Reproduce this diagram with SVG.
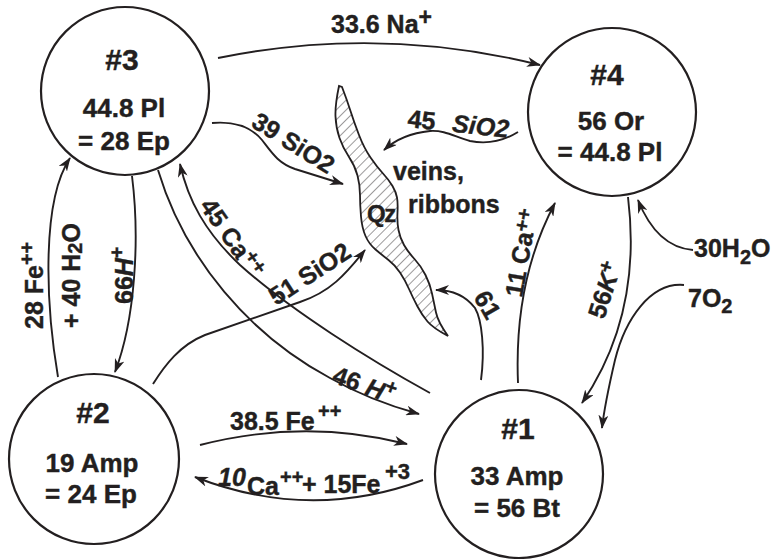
<svg xmlns="http://www.w3.org/2000/svg" width="772" height="559" viewBox="0 0 772 559">
<style>
.node{fill:#fff;stroke:#231f20;stroke-width:2.2}
.t{font-family:"Liberation Sans",Arial,sans-serif;font-weight:bold;fill:#231f20;stroke:#231f20;stroke-width:0.4}
.ttl{font-size:30px;text-anchor:middle}
.nb{font-size:26px;text-anchor:middle}
.lb{font-size:25px}
.sm{font-size:20px}
.it{font-style:italic}
.c path{fill:none;stroke:#231f20;stroke-width:1.9}
.c path.a{marker-end:url(#ah)}
</style>
<defs>
<marker id="ah" viewBox="0 0 14 10" refX="13" refY="5" markerWidth="14" markerHeight="10" markerUnits="userSpaceOnUse" orient="auto">
<path d="M0,0 L14,5 L0,10 L4,5 Z" fill="#231f20"/>
</marker>
<pattern id="hatch" patternUnits="userSpaceOnUse" width="7" height="7" patternTransform="rotate(45)">
<line x1="0" y1="0" x2="0" y2="7" stroke="#231f20" stroke-width="0.9"/>
</pattern>
</defs>
<rect width="772" height="559" fill="#fff"/>

<g id="vein">
<path d="M339,86 Q335,105 335.5,116.5 Q336,128 339.5,138 Q343,148 349,157 Q355,166 357.5,175.5 Q360,185 360,195 Q360,205 361,216.5 Q362,228 365.5,236 Q369,244 375.5,249.5 Q382,255 388.5,260 Q395,265 400,272.5 Q405,280 409,289 Q413,298 417.5,306.5 Q422,315 427.5,321.5 Q433,328 448,336 Q438,322 436,312.5 Q434,303 432,293.5 Q430,284 425.5,275 Q421,266 414.5,259 Q408,252 404,245 Q400,238 398.5,230 Q397,222 397.5,212.5 Q398,203 397,197.5 Q396,192 392.5,186 Q389,180 383,173.5 Q377,167 370.5,157.5 Q364,148 359,135 Q354,122 350.5,111 Q347,100 342,87 Z" fill="url(#hatch)" stroke="#231f20" stroke-width="1.8"/>
<text class="t" x="367" y="222" font-size="24" letter-spacing="-1.5">Qz</text>
<text class="t lb" x="393" y="180">veins,</text>
<text class="t lb" x="408" y="213">ribbons</text>
</g>

<g class="c" id="connectors">
<path class="a" d="M218,58 Q380,25 540,65"/>
<path class="a" d="M212,123 C235,121 252,128 262,140 C272,153 278,163 295,169 L343,184"/>
<path class="a" d="M518,132 C505,140 490,145 470,141 C455,137 445,130 430,131 C410,133 395,140 384,150"/>
<path class="a" d="M153,384 C165,365 180,345 205,335 L300,302 C330,292 345,275 365,250"/>
<path class="a" d="M430,393 C370,360 290,310 240,265 C205,232 188,200 180,164"/>
<path class="a" d="M158,170 C185,260 250,335 330,378 C360,395 390,406 419,414"/>
<path class="a" d="M132,176 C140,240 135,320 115,372"/>
<path class="a" d="M58,377 C45,300 42,200 70,158"/>
<path class="a" d="M200,445 Q305,418 407,444"/>
<path class="a" d="M423,480 Q310,522 195,477"/>
<path class="a" d="M518,383 C515,310 530,250 555,203"/>
<path class="a" d="M481,380 C485,350 482,320 475,308 C465,295 450,290 436,290"/>
<path class="a" d="M628,197 C637,270 625,340 582,403"/>
<path class="a" d="M693,250 C668,248 650,230 638,200"/>
<path class="a" d="M684,285 C650,282 625,320 615,360 C608,390 604,410 602,428"/>
</g>

<g id="labels">
<text class="t lb" x="331" y="33">33.6 Na<tspan font-size="23" dy="-8">+</tspan></text>
<text class="t lb" transform="rotate(32 250 126)" x="250" y="126">39 SiO2</text>
<text class="t lb" transform="rotate(6 407 127)" x="407" y="127">45 <tspan class="it" dx="10">SiO2</tspan></text>
<text class="t lb" transform="rotate(-33 276 306)" x="276" y="306">51 SiO2</text>
<text class="t lb" transform="rotate(55 199 206)" x="199" y="206">45 Ca<tspan class="sm" dy="-8">++</tspan></text>
<text class="t lb" transform="rotate(20 331 382)" x="331" y="382">46 <tspan class="it">H</tspan><tspan class="sm" dy="-9">+</tspan></text>
<text class="t lb" transform="rotate(-90 133 304)" x="133" y="304">66<tspan class="it">H</tspan><tspan class="sm" dy="-9">+</tspan></text>
<text class="t lb" transform="rotate(-90 43 329)" x="43" y="329">28 Fe<tspan class="sm" dy="-9">++</tspan></text>
<text class="t lb" transform="rotate(-90 80 328)" x="80" y="328">+ 40 H<tspan class="sm" dy="2">2</tspan><tspan dy="-2">O</tspan></text>
<text class="t lb" x="230" y="430">38.5 Fe<tspan class="sm" x="318" y="418">++</tspan></text>
<text class="t lb"><tspan class="it" x="218" y="486">10</tspan><tspan x="247" y="495">Ca</tspan><tspan class="sm" x="280" y="484">++</tspan><tspan x="302" y="493">+ 15Fe</tspan><tspan font-size="22" x="385" y="479">+3</tspan></text>
<text class="t lb" transform="rotate(-80 522 298)" x="522" y="298">11 Ca<tspan class="sm" dy="-6">++</tspan></text>
<text class="t lb" transform="rotate(60 473 297)" x="473" y="297">61</text>
<text class="t lb" transform="rotate(-72 604 320)" x="604" y="320">56<tspan class="it">K</tspan><tspan class="sm" dy="-8">+</tspan></text>
<text class="t lb" x="694" y="257">30H<tspan class="sm" dy="7">2</tspan><tspan dy="-7">O</tspan></text>
<text class="t lb" x="688" y="307">7O<tspan class="sm" dy="6">2</tspan></text>
</g>

<g id="n3">
<circle class="node" cx="125" cy="91" r="84"/>
<text class="t ttl" x="122" y="70">#3</text>
<text class="t nb" x="124" y="117">44.8 Pl</text>
<text class="t nb" x="124" y="150">= 28 Ep</text>
</g>
<g id="n4">
<circle class="node" cx="612" cy="112" r="84"/>
<text class="t ttl" x="607" y="85">#4</text>
<text class="t nb" x="611" y="130">56 Or</text>
<text class="t nb" x="610" y="161">= 44.8 Pl</text>
</g>
<g id="n2">
<circle class="node" cx="94" cy="459" r="85"/>
<text class="t ttl" x="93" y="423">#2</text>
<text class="t nb" x="92" y="472">19 Amp</text>
<text class="t nb" x="91" y="503">= 24 Ep</text>
</g>
<g id="n1">
<circle class="node" cx="519" cy="474" r="84"/>
<text class="t ttl" x="518" y="439">#1</text>
<text class="t nb" x="517" y="485">33 Amp</text>
<text class="t nb" x="517" y="517">= 56 Bt</text>
</g>
</svg>
